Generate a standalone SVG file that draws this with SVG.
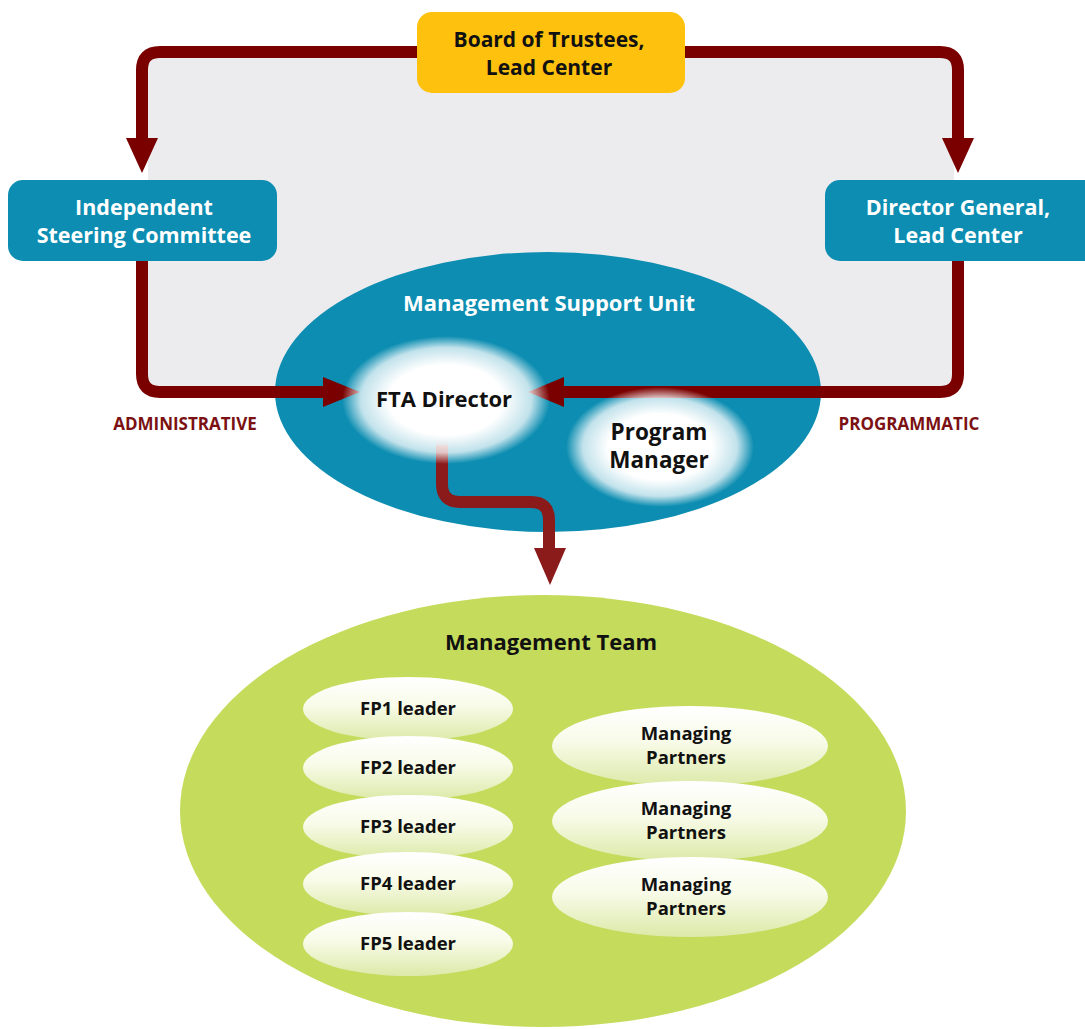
<svg xmlns="http://www.w3.org/2000/svg" width="1085" height="1029" viewBox="0 0 1085 1029">
<style>
text{font-family:"Open Sans","Liberation Sans",sans-serif;font-weight:700;text-anchor:middle}
.w{fill:#fff;font-size:21.5px}
.k{fill:#111;font-size:19px}
.lbl{fill:#7b1113;font-size:17px}
.box{fill:#0c8db1}
.ln{fill:none;stroke:#7a0000;stroke-width:12}
</style>
<defs>
<radialGradient id="glow" cx="0.5" cy="0.5" r="0.5">
<stop offset="0" stop-color="#fff"/>
<stop offset="0.55" stop-color="#fff"/>
<stop offset="0.82" stop-color="#fff" stop-opacity="0.75"/>
<stop offset="1" stop-color="#fff" stop-opacity="0"/>
</radialGradient>
<linearGradient id="pill" x1="0" y1="0" x2="0" y2="1">
<stop offset="0" stop-color="#fff"/>
<stop offset="0.45" stop-color="#f8fbe8"/>
<stop offset="1" stop-color="#dce9a8"/>
</linearGradient>
<linearGradient id="fade" x1="0" y1="0" x2="0" y2="1">
<stop offset="0" stop-color="#8b1a1a" stop-opacity="0"/>
<stop offset="1" stop-color="#8b1a1a"/>
</linearGradient>
</defs>
<rect x="148" y="58" width="806" height="330" fill="#ecebed"/>
<g id="msu">
<ellipse cx="548" cy="392" rx="273" ry="140" fill="#0c8db1"/>
<text class="w" x="549" y="311" style="font-size:22px">Management Support Unit</text>
</g>
<g id="connectors">
<path class="ln" d="M420 52 H160 Q142 52 142 70 V140"/>
<polygon points="126,138 158,138 142,173" fill="#7a0000"/>
<path class="ln" d="M680 52 H940 Q958 52 958 70 V140"/>
<polygon points="942,138 974,138 958,173" fill="#7a0000"/>
<path class="ln" d="M142 258 V374 Q142 392 160 392 H330"/>
<polygon points="323,377 323,407 360,392" fill="#7a0000"/>
<path class="ln" d="M958 258 V374 Q958 392 940 392 H560"/>
<polygon points="564,377 564,407 528,392" fill="#7a0000"/>
<path d="M442 445 V484 Q442 502 460 502 H531 Q549 502 549 520 V552" fill="none" stroke="#8b1a1a" stroke-width="12"/>
<rect x="436" y="430" width="12" height="40" fill="url(#fade)"/>
<polygon points="534,548 566,548 550,585" fill="#8b1a1a"/>
</g>
<g id="fta">
<ellipse cx="446" cy="400" rx="104" ry="64" fill="url(#glow)"/>
<text class="k" x="444" y="407" style="font-size:22px">FTA Director</text>
</g>
<g id="pm">
<ellipse cx="660" cy="447" rx="94" ry="60" fill="url(#glow)"/>
<text class="k" x="659" y="440" style="font-size:22.5px">Program</text>
<text class="k" x="659" y="468" style="font-size:22.5px">Manager</text>
</g>
<g id="board">
<rect x="417" y="12" width="268" height="81" rx="15" fill="#fec20e"/>
<text class="k" x="549" y="47" style="font-size:21px">Board of Trustees,</text>
<text class="k" x="549" y="75" style="font-size:21px">Lead Center</text>
</g>
<g id="isc">
<rect x="8" y="180" width="269" height="81" rx="15" class="box"/>
<text class="w" x="144" y="215">Independent</text>
<text class="w" x="144" y="243">Steering Committee</text>
</g>
<g id="dg">
<rect x="825" y="180" width="275" height="81" rx="15" class="box"/>
<text class="w" x="958" y="215">Director General,</text>
<text class="w" x="958" y="243">Lead Center</text>
</g>
<text class="lbl" x="185" y="430">ADMINISTRATIVE</text>
<text class="lbl" x="909" y="430">PROGRAMMATIC</text>
<g id="mt">
<ellipse cx="543" cy="811" rx="363" ry="216" fill="#c5db5c"/>
<text class="k" x="551" y="650" style="font-size:22px">Management Team</text>
</g>
<g id="fp1"><ellipse cx="408" cy="709" rx="105" ry="32" fill="url(#pill)"/><text class="k" x="408" y="715" style="font-size:18.5px">FP1 leader</text></g>
<g id="fp2"><ellipse cx="408" cy="768" rx="105" ry="32" fill="url(#pill)"/><text class="k" x="408" y="774" style="font-size:18.5px">FP2 leader</text></g>
<g id="fp3"><ellipse cx="408" cy="827" rx="105" ry="32" fill="url(#pill)"/><text class="k" x="408" y="833" style="font-size:18.5px">FP3 leader</text></g>
<g id="fp4"><ellipse cx="408" cy="884" rx="105" ry="32" fill="url(#pill)"/><text class="k" x="408" y="890" style="font-size:18.5px">FP4 leader</text></g>
<g id="fp5"><ellipse cx="408" cy="944" rx="105" ry="32" fill="url(#pill)"/><text class="k" x="408" y="950" style="font-size:18.5px">FP5 leader</text></g>
<g id="mp1"><ellipse cx="690" cy="746" rx="138" ry="40" fill="url(#pill)"/><text class="k" x="686" y="740" style="font-size:18.5px">Managing</text><text class="k" x="686" y="764" style="font-size:18.5px">Partners</text></g>
<g id="mp2"><ellipse cx="690" cy="821" rx="138" ry="40" fill="url(#pill)"/><text class="k" x="686" y="815" style="font-size:18.5px">Managing</text><text class="k" x="686" y="839" style="font-size:18.5px">Partners</text></g>
<g id="mp3"><ellipse cx="690" cy="897" rx="138" ry="40" fill="url(#pill)"/><text class="k" x="686" y="891" style="font-size:18.5px">Managing</text><text class="k" x="686" y="915" style="font-size:18.5px">Partners</text></g>
</svg>
